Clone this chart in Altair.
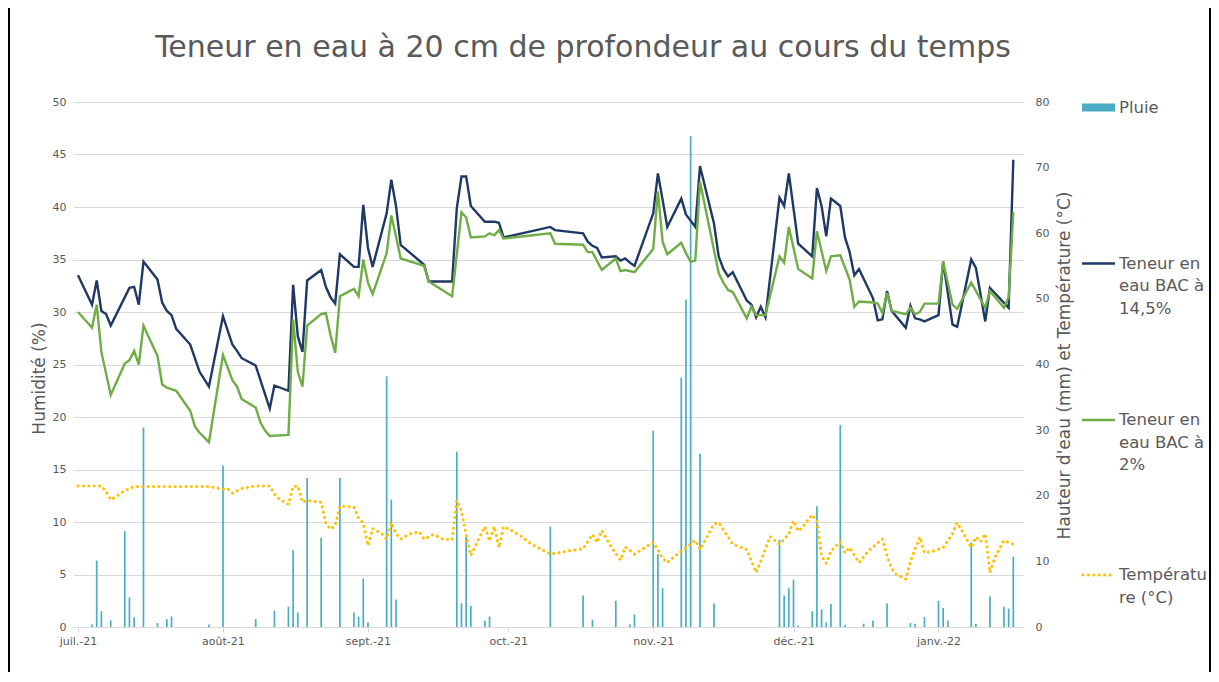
import altair as alt
import pandas as pd

START = "2021-07-01"  # day 0 of every *_days list below

# ---------------- data ----------------
# Teneur en eau BAC à 14,5 % (left axis, %)
bac145_days = [0, 3, 4, 5, 6, 7, 11, 12, 13, 14, 17, 18, 19, 20, 21, 24, 26, 28, 31, 33,
               34, 35, 38, 41, 42, 45, 46, 47, 48, 49, 52, 53, 54, 55, 56, 59, 60, 61, 62, 63,
               66, 67, 68, 69, 74, 75, 80, 81, 82, 83, 84, 87, 89, 90, 91, 101, 102, 108, 109, 110,
               111, 112, 115, 116, 117, 118, 119, 123, 124, 125, 126, 129, 130, 131, 132, 133, 136, 137, 138, 139,
               140, 143, 144, 145, 146, 147, 150, 151, 152, 154, 157, 158, 159, 160, 161, 163, 164, 165, 166, 167,
               170, 171, 172, 173, 174, 177, 178, 179, 180, 181, 184, 185, 187, 188, 191, 192, 194, 195, 199, 200]
bac145_vals = [33.5, 30.7, 33.0, 30.1, 29.8, 28.7, 32.3, 32.4, 30.7, 34.8, 33.1, 30.9, 30.1, 29.7, 28.4, 26.9, 24.3, 22.9, 29.6, 26.9,
               26.3, 25.6, 24.9, 20.8, 23.0, 22.5, 32.6, 27.7, 26.2, 33.0, 34.0, 32.4, 31.4, 30.8, 35.5, 34.3, 34.3, 40.2, 36.1, 34.3,
               39.4, 42.6, 40.1, 36.4, 34.5, 32.9, 32.9, 39.9, 42.9, 42.9, 40.1, 38.6, 38.6, 38.5, 37.1, 38.1, 37.8, 37.5, 36.7, 36.3,
               36.1, 35.2, 35.3, 34.9, 35.1, 34.7, 34.4, 39.4, 43.2, 40.7, 38.1, 40.8, 39.3, 38.7, 38.1, 43.9, 38.4, 35.3, 34.1, 33.4,
               33.8, 31.1, 30.7, 29.5, 30.5, 29.5, 40.9, 40.1, 43.2, 36.5, 35.3, 41.8, 40.1, 37.2, 40.8, 40.1, 37.1, 35.7, 33.5, 34.1,
               31.3, 29.2, 29.3, 32.0, 30.1, 28.5, 30.6, 29.4, 29.3, 29.1, 29.7, 34.8, 28.8, 28.6, 35.0, 34.2, 29.1, 32.3, 30.4, 44.5]

# Teneur en eau BAC à 2 % (left axis, %)
bac2_days = [0, 3, 4, 5, 7, 10, 11, 12, 13, 14, 17, 18, 19, 21, 24, 25, 26, 28, 31, 33,
             34, 35, 38, 39, 40, 41, 45, 46, 47, 48, 49, 52, 53, 54, 55, 56, 59, 60, 61, 62,
             63, 66, 67, 68, 69, 74, 75, 80, 82, 83, 84, 87, 88, 89, 90, 91, 101, 102, 108, 109,
             110, 112, 115, 116, 117, 119, 123, 124, 125, 126, 129, 130, 131, 132, 133, 137, 138, 139, 140, 143,
             144, 145, 147, 150, 151, 152, 154, 157, 158, 160, 161, 163, 165, 166, 167, 170, 171, 172, 173, 174,
             177, 178, 179, 180, 181, 184, 185, 187, 188, 191, 194, 195, 198, 199, 200]
bac2_vals = [30.0, 28.5, 30.7, 26.2, 22.1, 25.1, 25.4, 26.3, 25.0, 28.7, 25.8, 23.1, 22.8, 22.5, 20.6, 19.1, 18.5, 17.6, 25.9, 23.5,
             22.9, 21.7, 20.9, 19.5, 18.7, 18.2, 18.3, 29.3, 24.3, 22.9, 28.7, 29.8, 29.9, 27.8, 26.1, 31.5, 32.2, 31.5, 35.0, 32.8,
             31.7, 35.6, 39.2, 37.2, 35.1, 34.4, 32.9, 31.5, 39.5, 39.0, 37.1, 37.2, 37.5, 37.3, 37.8, 37.0, 37.5, 36.5, 36.4, 35.7,
             35.7, 34.0, 35.1, 33.9, 34.0, 33.8, 36.0, 41.5, 36.7, 35.5, 36.6, 35.6, 34.8, 34.9, 42.4, 33.7, 32.8, 32.1, 31.9, 29.4,
             30.5, 29.7, 29.7, 35.3, 34.7, 38.1, 34.1, 33.2, 37.7, 33.9, 35.3, 35.4, 33.1, 30.5, 31.0, 30.9, 30.8, 29.9, 31.8, 30.1,
             29.8, 30.4, 29.8, 30.0, 30.8, 30.8, 34.8, 30.7, 30.3, 32.8, 30.4, 32.0, 30.4, 31.4, 39.5]

# Température (°C, right axis)
temp_days = [0, 5, 6, 7, 8, 10, 12, 28, 31, 32, 33, 35, 38, 41, 42, 43, 45, 46, 47, 48,
             49, 52, 53, 54, 55, 56, 59, 60, 61, 62, 63, 65, 66, 67, 68, 69, 71, 73, 74, 76,
             78, 80, 81, 82, 83, 84, 85, 87, 88, 89, 90, 91, 93, 95, 97, 101, 105, 108, 110, 111,
             112, 114, 116, 117, 119, 123, 125, 126, 128, 130, 132, 133, 136, 137, 140, 143, 145, 146, 148, 150,
             152, 153, 154, 155, 157, 158, 159, 160, 161, 163, 164, 165, 167, 169, 172, 173, 174, 175, 177, 178,
             180, 181, 183, 185, 187, 188, 189, 191, 192, 193, 194, 195, 196, 198, 200]
temp_vals = [21.5, 21.5, 20.6, 19.4, 19.8, 20.8, 21.4, 21.4, 21.0, 21.1, 20.4, 21.1, 21.5, 21.5, 20.3, 19.5, 18.7, 21.4, 21.5, 19.0,
             19.3, 19.0, 15.8, 14.9, 15.5, 18.4, 18.3, 16.6, 15.8, 12.4, 15.0, 14.2, 13.4, 15.9, 14.2, 13.4, 14.2, 14.5, 13.4, 14.1,
             13.4, 13.3, 19.3, 17.7, 14.0, 10.9, 12.4, 15.3, 13.1, 15.3, 12.1, 15.3, 14.6, 13.7, 12.6, 11.1, 11.6, 11.9, 14.1, 12.9,
             14.7, 12.2, 10.2, 12.2, 11.1, 12.9, 10.5, 9.8, 11.0, 12.1, 13.2, 11.8, 15.7, 15.9, 12.6, 11.8, 8.3, 10.0, 13.8, 12.6,
             14.2, 16.2, 14.6, 15.3, 17.1, 16.1, 10.8, 9.7, 11.6, 13.0, 11.3, 12.1, 9.8, 11.6, 13.4, 10.8, 8.9, 8.0, 7.3, 10.0,
             13.7, 11.3, 11.6, 12.1, 14.2, 15.9, 14.7, 12.1, 13.7, 13.0, 14.2, 8.3, 10.5, 13.2, 12.6]

# Pluie (mm, right axis)
rain_days = [3, 4, 5, 7, 10, 11, 12, 14, 17, 19, 20, 28, 31, 38, 42, 45, 46, 47, 49, 52,
             56, 59, 60, 61, 62, 66, 67, 68, 81, 82, 83, 84, 87, 88, 101, 108, 110, 115, 118, 119,
             123, 124, 125, 129, 130, 131, 133, 136, 150, 151, 152, 153, 154, 157, 158, 159, 160, 161, 163, 164,
             168, 170, 173, 178, 179, 181, 184, 185, 186, 191, 192, 195, 198, 199, 200]
rain_vals = [0.4, 10.1, 2.4, 1.0, 14.6, 4.5, 1.5, 30.4, 0.6, 1.2, 1.6, 0.4, 24.6, 1.2, 2.5, 3.1, 11.7, 2.2, 22.7, 13.6,
             22.7, 2.2, 1.6, 7.4, 0.7, 38.2, 19.4, 4.2, 26.7, 3.6, 13.8, 3.2, 1.0, 1.6, 15.3, 4.8, 1.1, 4.0, 0.4, 1.9,
             29.9, 11.1, 5.9, 38.0, 49.9, 74.8, 26.4, 3.6, 13.3, 4.8, 5.9, 7.2, 0.2, 2.4, 18.4, 2.7, 0.7, 3.5, 30.8, 0.3,
             0.5, 1.0, 3.6, 0.6, 0.5, 1.5, 4.0, 2.9, 1.0, 12.9, 0.5, 4.7, 3.1, 2.8, 10.7]

month_names = ["janv.", "févr.", "mars", "avr.", "mai", "juin",
               "juil.", "août", "sept.", "oct.", "nov.", "déc."]
tick_months = [(2021, 7), (2021, 8), (2021, 9), (2021, 10), (2021, 11), (2021, 12), (2022, 1)]

TITLE = "Teneur en eau à 20 cm de profondeur au cours du temps"
Y_LEFT_TITLE = "Humidité (%)"
Y_RIGHT_TITLE = "Hauteur d'eau (mm) et Température (°C)"
LEG_RAIN = "Pluie"
LEG_145 = "Teneur en\neau BAC à\n14,5%"
LEG_2 = "Teneur en\neau BAC à\n2%"
LEG_TEMP = "Températu\nre (°C)"

# ---------------- styling ----------------
FONT = "DejaVu Sans"
TXT = "#595959"
GRID = "#d9d9d9"
C_RAIN = "#4bacc6"
C_145 = "#1f3864"
C_2 = "#70ad47"
C_TEMP = "#ffc000"
W, H = 950, 525


def frame(days, vals, name):
    d = pd.Timestamp(START) + pd.to_timedelta(days, unit="D")
    return pd.DataFrame({"date": d, name: vals})


df145 = frame(bac145_days, bac145_vals, "v")
df2 = frame(bac2_days, bac2_vals, "v")
dft = frame(temp_days, temp_vals, "t")
dfr = frame(rain_days, rain_vals, "r")
dummy = pd.DataFrame({"k": [0]})

label_expr = ("[" + ",".join("'%s'" % m for m in month_names) + "][month(datum.value)]"
              " + '-' + timeFormat(datum.value, '%y')")

x_enc = alt.X(
    "date:T",
    scale=alt.Scale(domain=[alt.DateTime(year=2021, month=7, date=1),
                            alt.DateTime(year=2022, month=1, date=18)]),
    axis=alt.Axis(values=[alt.DateTime(year=y, month=m, date=1) for y, m in tick_months],
                  labelExpr=label_expr, title=None, grid=False, labelFlush=False,
                  labelOverlap=False, tickSize=5, tickColor=GRID, domainColor=GRID,
                  labelPadding=3, labelFontSize=11),
)

left_scale = alt.Scale(domain=[0, 50], nice=False, zero=True)
right_scale = alt.Scale(domain=[0, 80], nice=False, zero=True)

bars = alt.Chart(dfr).mark_bar(color=C_RAIN, size=1.7).encode(
    x=x_enc,
    y=alt.Y("r:Q", scale=right_scale,
            axis=alt.Axis(orient="right", values=list(range(0, 81, 10)), grid=False,
                          domain=False, ticks=False, labelPadding=12,
                          title=Y_RIGHT_TITLE, titleAngle=270, titleX=41, titleY=263,
                          titleAlign="center", titleBaseline="middle")),
)

line145 = alt.Chart(df145).mark_line(color=C_145, strokeWidth=2.4).encode(
    x=x_enc,
    y=alt.Y("v:Q", scale=left_scale,
            axis=alt.Axis(orient="left", values=list(range(0, 51, 5)), grid=True,
                          gridColor=GRID, domain=False, ticks=False, labelPadding=7,
                          title=Y_LEFT_TITLE, titleAngle=270, titleX=-34, titleY=276,
                          titleAlign="center", titleBaseline="middle")),
)

line2 = alt.Chart(df2).mark_line(color=C_2, strokeWidth=2.4).encode(
    x=x_enc,
    y=alt.Y("v:Q", scale=left_scale, axis=None),
)

temp = alt.Chart(dft).mark_line(color=C_TEMP, strokeWidth=3, strokeDash=[0.1, 5.3],
                                strokeCap="round").encode(
    x=x_enc,
    y=alt.Y("t:Q", scale=right_scale, axis=None),
)

# ---------------- manual legend (right side) ----------------
LX0, LX1, TX = 1009, 1042, 1046
legend_layers = [
    alt.Chart(dummy).mark_rect(color=C_RAIN).encode(
        x=alt.value(LX0), x2=alt.value(LX1), y=alt.value(1.5), y2=alt.value(9.5)),
    alt.Chart(dummy).mark_rule(color=C_145, strokeWidth=2.4).encode(
        x=alt.value(LX0), x2=alt.value(LX1), y=alt.value(161.5)),
    alt.Chart(dummy).mark_rule(color=C_2, strokeWidth=2.4).encode(
        x=alt.value(LX0), x2=alt.value(LX1), y=alt.value(318)),
    alt.Chart(dummy).mark_rule(color=C_TEMP, strokeWidth=3, strokeDash=[0.1, 5.3],
                               strokeCap="round").encode(
        x=alt.value(LX0 + 1), x2=alt.value(LX1), y=alt.value(473)),
]
for txt, ty in [(LEG_RAIN, -2.5), (LEG_145, 153.5), (LEG_2, 310), (LEG_TEMP, 465)]:
    legend_layers.append(
        alt.Chart(dummy).mark_text(align="left", baseline="top", lineBreak="\n",
                                   lineHeight=22.5, font=FONT, fontSize=16.5,
                                   color=TXT).encode(
            x=alt.value(TX), y=alt.value(ty), text=alt.value(txt)))

# outer frame lines (left and right edges of the chart box)
frame_layers = [
    alt.Chart(dummy).mark_rule(color="#000000", strokeWidth=2).encode(
        x=alt.value(-64), y=alt.value(-94), y2=alt.value(H + 45)),
    alt.Chart(dummy).mark_rule(color="#000000", strokeWidth=2).encode(
        x=alt.value(1137), y=alt.value(-94), y2=alt.value(H + 45)),
]

chart = alt.layer(bars, line145, line2, temp, *legend_layers, *frame_layers).resolve_scale(
    y="independent"
).properties(
    width=W,
    height=H,
    padding={"left": 65, "top": 94, "right": 188, "bottom": 45},
    autosize=alt.AutoSizeParams(type="none"),
    background="white",
    title=alt.TitleParams(TITLE, font=FONT, fontSize=30, fontWeight="normal", color=TXT,
                          anchor="middle", dx=35, offset=0, dy=71, baseline="middle"),
).configure_view(
    stroke=None
).configure_axis(
    labelFont=FONT, titleFont=FONT, labelColor=TXT, titleColor=TXT,
    labelFontSize=11, titleFontSize=17, titleFontWeight="normal",
)

chart.save("out.html", embed_options={"renderer": "svg", "actions": False})
